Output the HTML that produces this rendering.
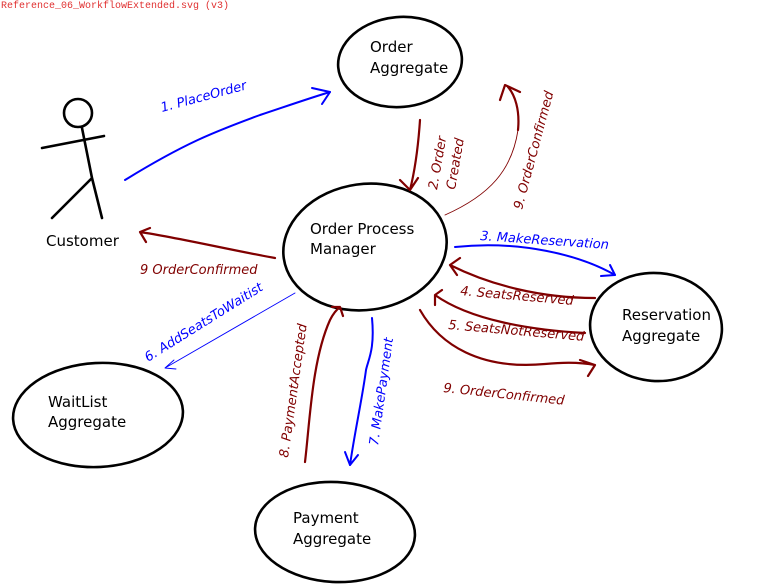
<!DOCTYPE html>
<html><head><meta charset="utf-8"><style>
html,body{margin:0;padding:0;background:#fff;}
svg{display:block}
text{font-family:"DejaVu Sans","Liberation Sans",sans-serif;}
.n{font-size:15px;fill:#000}
.r{font-size:13px;fill:#800000;font-style:italic}
.b{font-size:13px;fill:#0000ff;font-style:italic}
</style></head><body>
<svg width="758" height="585" viewBox="0 0 758 585" xmlns="http://www.w3.org/2000/svg">
<text x="1" y="8" font-size="10" fill="#e03030" style="font-family:'Liberation Mono',monospace">Reference_06_WorkflowExtended.svg (v3)</text>
<g fill="none" stroke="#000" stroke-width="2.6" stroke-linecap="round">
<ellipse cx="400" cy="62" rx="62" ry="45" transform="rotate(-5 400 62)"/>
<ellipse cx="365" cy="247" rx="82" ry="63" transform="rotate(-8 365 247)"/>
<ellipse cx="656" cy="327" rx="66" ry="54" transform="rotate(5 656 327)"/>
<ellipse cx="98" cy="415" rx="85" ry="52" transform="rotate(-3 98 415)"/>
<ellipse cx="335" cy="532" rx="80" ry="50" transform="rotate(3 335 532)"/>
<circle cx="78" cy="113" r="14"/>
<path d="M82,128 L92,178 M42,148 L104,136 M92,178 L52,218 M92,178 L102,218"/>
</g>
<text class="n" x="370" y="52">Order</text><text class="n" x="370" y="73">Aggregate</text>
<text class="n" x="310" y="234">Order Process</text><text class="n" x="310" y="254">Manager</text>
<text class="n" x="622" y="320">Reservation</text><text class="n" x="622" y="341">Aggregate</text>
<text class="n" x="48" y="407">WaitList</text><text class="n" x="48" y="427">Aggregate</text>
<text class="n" x="293" y="523">Payment</text><text class="n" x="293" y="544">Aggregate</text>
<text class="n" x="46" y="246">Customer</text>
<g fill="none" stroke-linecap="round" stroke-linejoin="round">
<g stroke="#0000ff" stroke-width="2">
<path d="M125,180 C190,140 220,130 260,115 C290,105 310,98 330,92"/>
<path d="M312,88 L330,92 L322,104"/>
<path d="M455,247 C520,240 580,255 615,275"/>
<path d="M601,276 L615,275 L610,265"/>
<path d="M372,318 C375,350 368,360 366,370 C362,400 355,430 350,465"/>
<path d="M345,452 L350,465 L358,455"/>
</g>
<path stroke="#0000ff" stroke-width="0.9" d="M295,293 L165,368 M174,360 L165,368 L176,369"/>
<g stroke="#800000" stroke-width="2.2">
<path d="M420,120 C418,150 415,170 410,190 M400,180 L410,190 L418,178"/>
<path d="M518,130 C520,110 515,95 508,87 M500,100 L505,85 L520,92"/>
<path d="M275,258 C230,250 180,238 140,232 M150,228 L140,232 L146,242"/>
<path d="M595,298 C540,298 490,285 450,265 M460,258 L450,265 L457,275"/>
<path d="M585,333 C530,330 470,320 435,295 M442,290 L435,295 L435,305"/>
<path d="M420,310 C440,345 480,370 545,364 C565,362 580,362 595,365 M580,360 L595,365 L588,376"/>
<path d="M305,462 C310,420 312,360 330,320 C333,314 336,310 340,307 M332,307 L340,307 L343,316"/>
</g>
<path stroke="#800000" stroke-width="0.9" d="M445,215 C490,195 512,170 518,130"/>
</g>
<text class="b" transform="translate(162,112) rotate(-15)">1. PlaceOrder</text>
<text class="r" transform="translate(437,190) rotate(-80)">2. Order</text>
<text class="r" transform="translate(455,190) rotate(-80)">Created</text>
<text class="r" transform="translate(522,210) rotate(-75)">9. OrderConfirmed</text>
<text class="r" x="140" y="274">9 OrderConfirmed</text>
<text class="b" transform="translate(480,240) rotate(4)">3. MakeReservation</text>
<text class="r" transform="translate(460,295) rotate(5)">4. SeatsReserved</text>
<text class="r" transform="translate(448,329) rotate(5)">5. SeatsNotReserved</text>
<text class="r" transform="translate(443,392) rotate(6)">9. OrderConfirmed</text>
<text class="b" transform="translate(148,362) rotate(-32)">6. AddSeatsToWaitist</text>
<text class="r" transform="translate(288,458) rotate(-82)">8. PaymentAccepted</text>
<text class="b" transform="translate(378,446) rotate(-82)">7. MakePayment</text>
</svg>
</body></html>
